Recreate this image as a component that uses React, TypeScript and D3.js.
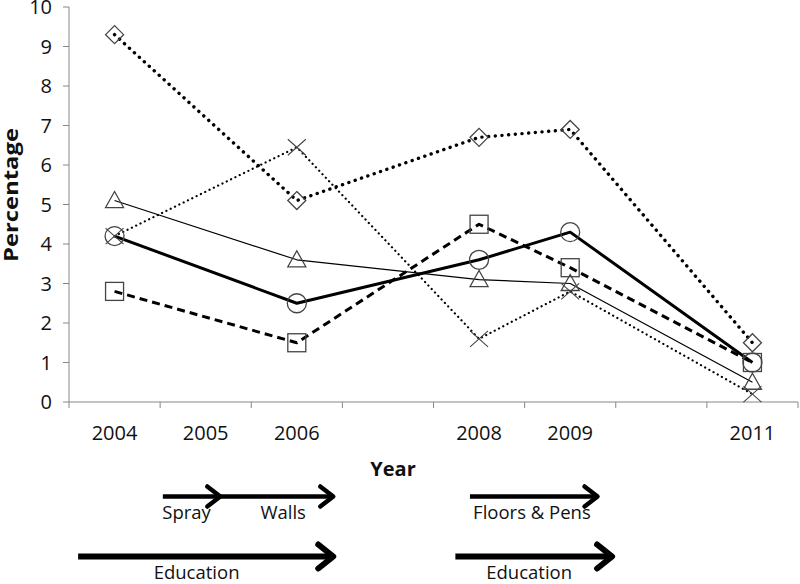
import React from "react";
import * as d3 from "d3";

const categories = ["2004", "2005", "2006", "2007", "2008", "2009", "2010", "2011"];
const tickLabels = ["2004", "2005", "2006", "", "2008", "2009", "", "2011"];
const dataYears = ["2004", "2006", "2008", "2009", "2011"];
const yTicks = [0, 1, 2, 3, 4, 5, 6, 7, 8, 9, 10];

const diamondSeries = [9.3, 5.1, 6.7, 6.9, 1.5];
const crossSeries = [4.2, 6.45, 1.6, 2.8, 0.2];
const triangleSeries = [5.1, 3.6, 3.1, 3.0, 0.5];
const circleSeries = [4.2, 2.5, 3.6, 4.3, 1.0];
const squareSeries = [2.8, 1.5, 4.5, 3.4, 1.0];

// timeline annotations (fractional years)
const arrowStarts = [2004.53, 2005.16, 2007.9, 2003.6, 2007.74];
const arrowEnds = [2005.16, 2006.4, 2009.3, 2006.4, 2009.46];
const arrowRows = [0, 0, 0, 1, 1];
const annotLabels = ["Spray", "Walls", "Floors & Pens", "Education", "Education"];
const annotLabelYears = [2004.79, 2005.85, 2008.58, 2004.9, 2008.55];
const annotLabelRows = [0, 0, 0, 1, 1];

const W = 800;
const H = 584;
const left = 69;
const right = 798;
const top = 7;
const bottom = 402;
const font = "'Open Sans', 'DejaVu Sans', sans-serif";
const axisColor = "#878787";
const markerColor = "#444";

export default function App() {
  const x = d3.scaleBand<string>().domain(categories).range([left, right]).padding(0);
  const cx = (c: string) => (x(c) as number) + x.bandwidth() / 2;
  const y = d3.scaleLinear().domain([0, 10]).range([bottom, top]);
  const xYear = d3
    .scaleLinear()
    .domain([2004, 2011])
    .range([cx("2004"), cx("2011")]);

  const line = d3
    .line<number>()
    .x((_, i) => cx(dataYears[i]))
    .y((v) => y(v));

  const series = [
    { values: circleSeries, width: 3, dash: undefined, cap: "butt", marker: "circle" },
    { values: squareSeries, width: 3, dash: "8 5", cap: "butt", marker: "square" },
    { values: triangleSeries, width: 1.2, dash: undefined, cap: "butt", marker: "triangle" },
    { values: crossSeries, width: 2.2, dash: "0.1 4.7", cap: "round", marker: "cross" },
    { values: diamondSeries, width: 3.4, dash: "0.1 6.6", cap: "round", marker: "diamond" },
  ];

  const marker = (type: string, px: number, py: number, key: string) => {
    const s = 9;
    const common = { fill: "none", stroke: markerColor, strokeWidth: 1.3 };
    if (type === "circle") return <circle key={key} cx={px} cy={py} r={9.5} {...common} />;
    if (type === "square")
      return <rect key={key} x={px - s} y={py - s} width={2 * s} height={2 * s} {...common} />;
    if (type === "diamond")
      return (
        <path key={key} d={`M${px},${py - s}L${px + s},${py}L${px},${py + s}L${px - s},${py}Z`} {...common} />
      );
    if (type === "triangle")
      return (
        <path key={key} d={`M${px},${py - 9}L${px + 9},${py + 7}L${px - 9},${py + 7}Z`} {...common} />
      );
    return (
      <path
        key={key}
        d={`M${px - 9},${py - 8}L${px + 9},${py + 8}M${px + 9},${py - 8}L${px - 9},${py + 8}`}
        {...common}
        strokeWidth={1.1}
      />
    );
  };

  const rowY = [496.5, 556.5];
  const rowW = [4.5, 6];
  const labelY = [519, 579];

  return (
    <svg
      width={W}
      height={H}
      style={{ position: "absolute", left: 0, top: 0, background: "#fff" }}
      fontFamily={font}
    >
      {/* axes */}
      <line x1={left} x2={left} y1={top} y2={bottom} stroke={axisColor} strokeWidth={1} />
      <line x1={left} x2={right} y1={bottom} y2={bottom} stroke={axisColor} strokeWidth={1} />
      {yTicks.map((t) => (
        <g key={"yt" + t}>
          <line x1={left - 6} x2={left} y1={y(t)} y2={y(t)} stroke={axisColor} />
          <text x={52} y={y(t)} dy="0.36em" textAnchor="end" fontSize={20} fill="#111">
            {t}
          </text>
        </g>
      ))}
      {categories.map((c) => (
        <line
          key={"xt" + c}
          x1={x(c) as number}
          x2={x(c) as number}
          y1={bottom}
          y2={bottom + 6}
          stroke={axisColor}
        />
      ))}
      <line x1={right} x2={right} y1={bottom} y2={bottom + 6} stroke={axisColor} />
      {categories.map((c, i) => (
        <text key={"xl" + c} x={cx(c)} y={440} textAnchor="middle" fontSize={20} fill="#111">
          {tickLabels[i]}
        </text>
      ))}
      <text
        transform={`translate(18,195) rotate(-90)`}
        textAnchor="middle"
        fontSize={19}
        fontWeight="bold"
        fill="#111"
        textLength={134}
        lengthAdjust="spacingAndGlyphs"
      >
        Percentage
      </text>
      <text x={393} y={476} textAnchor="middle" fontSize={20} fontWeight="bold" fill="#111">
        Year
      </text>

      {/* series lines */}
      {series.map((s, i) => (
        <path
          key={"s" + i}
          d={line(s.values) as string}
          fill="none"
          stroke="#000"
          strokeWidth={s.width}
          strokeDasharray={s.dash}
          strokeLinecap={s.cap as any}
          strokeLinejoin="round"
        />
      ))}
      {/* markers */}
      {series.map((s, i) =>
        s.values.map((v, j) => marker(s.marker, cx(dataYears[j]), y(v), `m${i}-${j}`))
      )}

      {/* timeline arrows */}
      {arrowStarts.map((a, i) => {
        const x1 = xYear(a);
        const x2 = xYear(arrowEnds[i]);
        const yy = rowY[arrowRows[i]];
        const w = rowW[arrowRows[i]];
        const hl = arrowRows[i] === 0 ? 13 : 15;
        const hw = arrowRows[i] === 0 ? 10 : 12;
        return (
          <g key={"ar" + i} stroke="#000" fill="none" strokeWidth={w} strokeLinejoin="round">
            <line x1={x1} x2={x2 - 2} y1={yy} y2={yy} strokeLinecap="butt" />
            <polyline
              points={`${x2 - hl},${yy - hw} ${x2},${yy} ${x2 - hl},${yy + hw}`}
              strokeLinecap="round"
            />
          </g>
        );
      })}
      {annotLabels.map((l, i) => (
        <text
          key={"al" + i}
          x={xYear(annotLabelYears[i])}
          y={labelY[annotLabelRows[i]]}
          textAnchor="middle"
          fontSize={18.5}
          fill="#111"
        >
          {l}
        </text>
      ))}
    </svg>
  );
}
